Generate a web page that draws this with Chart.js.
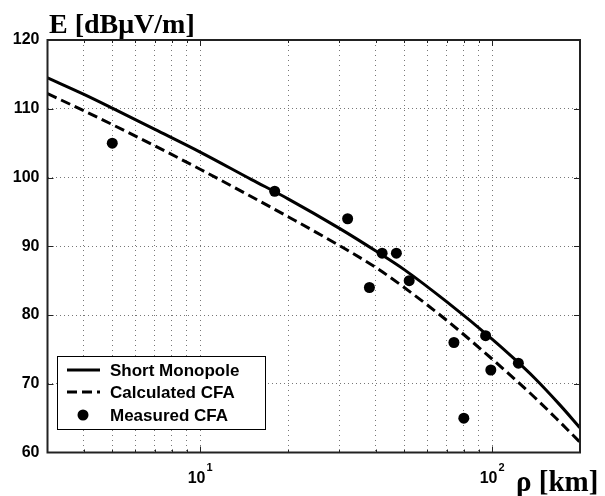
<!DOCTYPE html>
<html>
<head>
<meta charset="utf-8">
<script src="https://cdn.jsdelivr.net/npm/chart.js@4"></script>
<style>
  html, body { margin: 0; padding: 0; background: #fff; }
</style>
</head>
<body>
<canvas id="fieldChart" width="605" height="496"></canvas>
<script>
// distance in km, field strength in dBuV/m
const monopoleDist = [3, 4, 5, 7, 10, 15, 20, 30, 40, 50, 70, 100, 120, 140, 170, 200];
const monopoleE = [114.5, 112.1, 110.1, 107.0, 103.7, 99.7, 96.9, 92.6, 89.3, 86.6, 81.9, 76.5, 73.5, 70.8, 67.0, 63.6];

const cfaDist = [3, 4, 5, 7, 10, 15, 20, 30, 40, 50, 70, 100, 120, 140, 170, 200];
const cfaE = [112.2, 109.7, 107.7, 104.6, 101.2, 97.2, 94.3, 90.1, 86.9, 84.0, 79.2, 73.6, 70.6, 68.0, 64.5, 61.5];

const measuredDist = [5, 18, 32, 38, 42, 47, 52, 74, 80, 95, 99, 123];
const measuredE = [105, 98, 94, 84, 89, 89, 85, 76, 65, 77, 72, 73];

const xGridTicks = [4, 5, 6, 7, 8, 9, 10, 20, 30, 40, 50, 60, 70, 80, 90, 100];
const xMajorTicks = [10, 100];
const xMajorExp = ['1', '2'];
const yTickValues = [70, 80, 90, 100, 110];

const toPoints = (xs, ys) => xs.map((x, i) => ({x, y: ys[i]}))

const sans = '"Liberation Sans", Arial, sans-serif'
const serif = '"Liberation Serif", "Times New Roman", serif'

const decorations = {
    id: 'decorations',
    afterDraw(chart) {
        const {ctx, chartArea: a, scales} = chart
        const xs = scales.x, ys = scales.y
        ctx.save()

        // inward ticks
        ctx.strokeStyle = '#222'
        ctx.lineWidth = 1
        ctx.beginPath()
        for (const v of yTickValues) {
            const py = Math.round(ys.getPixelForValue(v)) + 0.5
            ctx.moveTo(a.left, py); ctx.lineTo(a.left + 6, py)
            ctx.moveTo(a.right, py); ctx.lineTo(a.right - 6, py)
        }
        for (const v of xGridTicks) {
            const px = Math.round(xs.getPixelForValue(v)) + 0.5
            const len = xMajorTicks.includes(v) ? 6 : 3
            ctx.moveTo(px, a.bottom); ctx.lineTo(px, a.bottom - len)
            ctx.moveTo(px, a.top); ctx.lineTo(px, a.top + len)
        }
        ctx.stroke()

        // frame
        ctx.strokeStyle = '#222'
        ctx.lineWidth = 2
        ctx.strokeRect(a.left, a.top, a.right - a.left, a.bottom - a.top)

        // x tick labels 10^n
        ctx.fillStyle = '#000'
        ctx.textBaseline = 'alphabetic'
        xMajorTicks.forEach((v, i) => {
            const px = xs.getPixelForValue(v)
            ctx.font = 'bold 16px ' + sans
            const wBase = ctx.measureText('10').width
            ctx.font = 'bold 11px ' + sans
            const wExp = ctx.measureText(xMajorExp[i]).width
            const start = px - (wBase + wExp + 1) / 2
            ctx.font = 'bold 16px ' + sans
            ctx.textAlign = 'left'
            ctx.fillText('10', start, 483)
            ctx.font = 'bold 11px ' + sans
            ctx.fillText(xMajorExp[i], start + wBase + 1, 471)
        })

        // axis titles
        ctx.font = 'bold 28px ' + serif
        ctx.textAlign = 'left'
        ctx.fillText('E [dBμV/m]', 49, 33)
        ctx.font = 'bold 29px ' + serif
        ctx.fillText('ρ [km]', 516, 491)

        // legend
        const box = {x: 57, y: 356, w: 208, h: 73}
        ctx.fillStyle = '#fff'
        ctx.fillRect(box.x, box.y, box.w, box.h)
        ctx.strokeStyle = '#000'
        ctx.lineWidth = 1
        ctx.strokeRect(box.x + 0.5, box.y + 0.5, box.w, box.h)
        const rows = [370, 392, 415]
        chart.data.datasets.forEach((ds, i) => {
            const ry = rows[i]
            ctx.strokeStyle = '#000'
            ctx.fillStyle = '#000'
            if (ds.showLine === false) {
                ctx.beginPath()
                ctx.arc(83, ry, ds.pointRadius, 0, Math.PI * 2)
                ctx.fill()
            } else {
                ctx.lineWidth = ds.borderWidth
                ctx.setLineDash(ds.borderDash || [])
                ctx.beginPath()
                ctx.moveTo(67, ry); ctx.lineTo(100, ry)
                ctx.stroke()
                ctx.setLineDash([])
            }
            ctx.font = 'bold 17px ' + sans
            ctx.textAlign = 'left'
            ctx.textBaseline = 'middle'
            ctx.fillText(ds.label, 110, ry + 1)
        })
        ctx.restore()
    }
}

const fieldChart = document.getElementById('fieldChart')
new Chart(fieldChart, {
    type: 'line',
    data: {
        datasets: [{
            label: 'Short Monopole',
            data: toPoints(monopoleDist, monopoleE),
            borderColor: '#000',
            borderWidth: 3,
            pointRadius: 0,
            cubicInterpolationMode: 'monotone',
            fill: false
        }, {
            label: 'Calculated CFA',
            data: toPoints(cfaDist, cfaE),
            borderColor: '#000',
            borderWidth: 3,
            borderDash: [10, 5],
            pointRadius: 0,
            cubicInterpolationMode: 'monotone',
            fill: false
        }, {
            label: 'Measured CFA',
            data: toPoints(measuredDist, measuredE),
            showLine: false,
            pointRadius: 5.5,
            pointBackgroundColor: '#000',
            pointBorderColor: '#000',
            pointBorderWidth: 0
        }]
    },
    options: {
        responsive: false,
        animation: false,
        devicePixelRatio: 1,
        layout: {padding: {top: 40, right: 25, left: 0, bottom: 0}},
        plugins: {legend: {display: false}, tooltip: {enabled: false}},
        scales: {
            x: {
                type: 'logarithmic',
                min: 3,
                max: 200,
                afterBuildTicks: (scale) => {
                    scale.ticks = xGridTicks.map(value => ({value}))
                },
                afterFit: (scale) => { scale.height = 43.5 },
                ticks: {display: false},
                grid: {
                    drawTicks: false,
                    color: '#777',
                    lineWidth: 1
                },
                border: {display: false, dash: [1, 4]}
            },
            y: {
                min: 60,
                max: 120,
                ticks: {
                    stepSize: 10,
                    padding: 8,
                    color: '#000',
                    font: {family: sans, size: 16, weight: 'bold'}
                },
                afterFit: (scale) => { scale.width = 47.5 },
                grid: {
                    drawTicks: false,
                    color: (c) => (c.tick && (c.tick.value === 60 || c.tick.value === 120)) ? 'rgba(0,0,0,0)' : '#777',
                    lineWidth: 1
                },
                border: {display: false, dash: [1, 3]}
            }
        }
    },
    plugins: [decorations]
});
</script>
</body>
</html>
